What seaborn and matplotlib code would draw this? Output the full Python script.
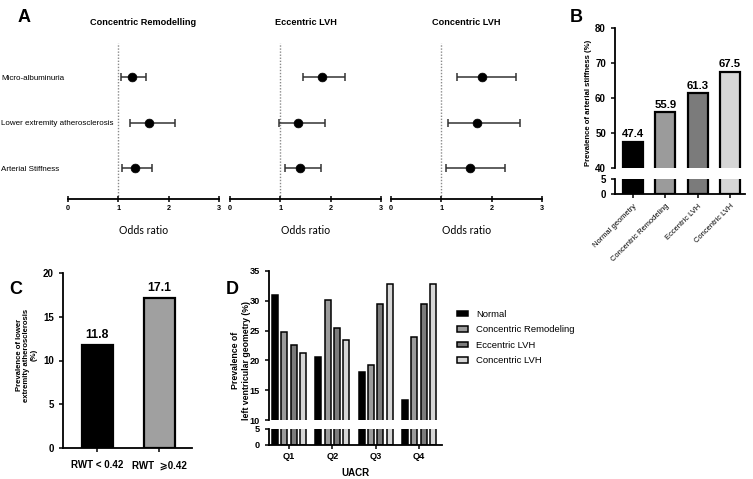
import numpy as np
import pandas as pd
import matplotlib.pyplot as plt
import seaborn as sns

sns.set_theme(style='ticks', rc={'axes.edgecolor': 'black', 'axes.linewidth': 1.3,
                                 'xtick.color': 'black', 'ytick.color': 'black',
                                 'text.color': 'black', 'axes.labelcolor': 'black',
                                 'xtick.major.width': 1.1, 'ytick.major.width': 1.1})
plt.rcParams['font.family'] = ['Liberation Sans', 'DejaVu Sans']

# ---- dados ----
outcomes = ['Micro-albuminuria', 'Lower extremity atherosclerosis', 'Arterial Stiffness']
or_groups = ['Concentric Remodelling', 'Eccentric LVH', 'Concentric LVH']
or_cr = [1.27, 1.61, 1.34]
lo_cr = [1.05, 1.23, 1.08]
hi_cr = [1.54, 2.13, 1.66]
or_el = [1.82, 1.36, 1.40]
lo_el = [1.46, 0.97, 1.09]
hi_el = [2.29, 1.89, 1.80]
or_cl = [1.81, 1.70, 1.57]
lo_cl = [1.32, 1.13, 1.10]
hi_cl = [2.49, 2.57, 2.26]

geometry = ['Normal geometry', 'Concentric Remodeling', 'Eccentric LVH', 'Concentric LVH']
stiff_pct = [47.4, 55.9, 61.3, 67.5]

rwt_groups = ['RWT < 0.42', 'RWT  \u2a7e0.42']
lea_pct = [11.8, 17.1]

quartiles = ['Q1', 'Q2', 'Q3', 'Q4']
normal_q = [31.0, 20.6, 18.0, 13.3]
cr_q = [24.8, 30.1, 19.3, 24.0]
el_q = [22.6, 25.4, 29.5, 29.4]
cl_q = [21.2, 23.5, 32.8, 32.9]

W, H = 753, 479


def box(x0, y0, x1, y1):
    # pixel box -> fig fraction
    return [x0 / W, 1 - y1 / H, (x1 - x0) / W, (y1 - y0) / H]


def bold_ticks(ax, size):
    for lab in ax.get_xticklabels() + ax.get_yticklabels():
        lab.set_fontweight('bold')
        lab.set_fontsize(size)


fig = plt.figure(figsize=(W / 100, H / 100), dpi=100)

# ---- A: forest plots ----
forest = [(or_cr, lo_cr, hi_cr), (or_el, lo_el, hi_el), (or_cl, lo_cl, hi_cl)]
fx = [68, 230, 391]
for i, (title, (orv, lo, hi)) in enumerate(zip(or_groups, forest)):
    ax = fig.add_axes(box(fx[i], 43, fx[i] + 151, 199))
    ypos = np.arange(len(outcomes))
    ax.axvline(1, color='#8a8a8a', ls=(0, (1, 1.2)), lw=1, zorder=0)
    ax.errorbar(orv, ypos, xerr=[np.subtract(orv, lo), np.subtract(hi, orv)],
                fmt='none', ecolor='#333333', elinewidth=1.1, capsize=2.6, capthick=1.1)
    sns.scatterplot(x=orv, y=ypos, ax=ax, color='black', s=40, edgecolor='black', zorder=3)
    ax.set_xlim(0, 3)
    ax.set_ylim(2.68, -0.75)
    for s in ['top', 'right', 'left']:
        ax.spines[s].set_visible(False)
    ax.set_xticks([0, 1, 2, 3])
    ax.tick_params(axis='x', direction='inout', length=5, pad=2)
    if i == 0:
        ax.set_yticks(ypos)
        ax.set_yticklabels(outcomes, ha='left')
        ax.tick_params(axis='y', length=0, pad=48)
    else:
        ax.set_yticks([])
    bold_ticks(ax, 5.2)
    for lab in ax.get_yticklabels():
        lab.set_fontweight('normal')
        lab.set_fontsize(5.8)
    ax.set_title(title, fontsize=6.6, fontweight='bold', pad=13)
    ax.set_xlabel('Odds ratio', fontsize=7.6, family='Lato', labelpad=9)

# ---- B: arterial stiffness ----
b_colors = ['#000000', '#9b9b9b', '#7b7b7b', '#d6d6d6']
axb_top = fig.add_axes(box(615, 28, 745, 168))
axb_bot = fig.add_axes(box(615, 179, 745, 194))
for ax in (axb_top, axb_bot):
    sns.barplot(x=geometry, y=stiff_pct, hue=geometry, palette=b_colors, width=0.62,
                edgecolor='black', linewidth=1.6, legend=False, ax=ax)
    ax.set_xlim(-0.56, 3.46)
    sns.despine(ax=ax)
    ax.tick_params(length=3)
axb_top.set_ylim(40, 80)
axb_top.set_yticks([40, 50, 60, 70, 80])
axb_top.spines['bottom'].set_visible(False)
axb_top.tick_params(axis='x', bottom=False, labelbottom=False)
for c in axb_top.containers:
    axb_top.bar_label(c, fmt='%.1f', padding=2, fontsize=8.2, fontweight='bold')
axb_bot.set_ylim(0, 5)
axb_bot.set_yticks([0, 5])
bold_ticks(axb_top, 7)
bold_ticks(axb_bot, 7)
axb_bot.set_xticks(range(len(geometry)))
axb_bot.set_xticklabels(geometry, rotation=45, ha='right', rotation_mode='anchor',
                        fontsize=5.4, fontweight='normal')
fig.text(588 / W, 1 - 103 / H, 'Prevalence of arterial stiffness (%)', rotation=90,
         ha='center', va='center', fontsize=5.6, fontweight='bold')

# ---- C: lower extremity atherosclerosis ----
axc = fig.add_axes(box(63, 273, 192, 448))
sns.barplot(x=rwt_groups, y=lea_pct, hue=rwt_groups, palette=['#000000', '#a0a0a0'],
            width=0.5, edgecolor='black', linewidth=1.6, legend=False, ax=axc)
axc.set_xlim(-0.55, 1.53)
axc.set_ylim(0, 20)
axc.set_yticks([0, 5, 10, 15, 20])
sns.despine(ax=axc)
axc.tick_params(length=3)
for c in axc.containers:
    axc.bar_label(c, fmt='%.1f', padding=3, fontsize=8.8, fontweight='bold')
bold_ticks(axc, 7)
for lab in axc.get_xticklabels():
    lab.set_fontsize(7)
axc.tick_params(axis='x', pad=6)
fig.text(27 / W, 1 - 355 / H, 'Prevalence of lower\nextremity atherosclerosis\n(%)',
         rotation=90, ha='center', va='center', fontsize=5.6, fontweight='bold',
         linespacing=1.05, multialignment='center')

# ---- D: geometry by UACR quartile ----
lv_df = pd.DataFrame({'Normal': normal_q, 'Concentric Remodeling': cr_q,
                      'Eccentric LVH': el_q, 'Concentric LVH': cl_q}, index=quartiles)
lv_long = lv_df.reset_index(names='UACR').melt(id_vars='UACR', var_name='Geometry',
                                               value_name='pct')
d_colors = ['#000000', '#9b9b9b', '#7b7b7b', '#d6d6d6']
axd_top = fig.add_axes(box(269, 271, 442, 420))
axd_bot = fig.add_axes(box(269, 429, 442, 445))
for ax in (axd_top, axd_bot):
    sns.barplot(data=lv_long, x='UACR', y='pct', hue='Geometry', palette=d_colors,
                width=0.86, gap=0.35, edgecolor='black', linewidth=1.1, ax=ax)
    ax.set_xlim(-0.46, 3.53)
    sns.despine(ax=ax)
    ax.tick_params(length=3)
    ax.set_ylabel('')
handles, labels = axd_top.get_legend_handles_labels()
axd_top.get_legend().remove()
axd_bot.get_legend().remove()
axd_top.set_ylim(10, 35)
axd_top.set_yticks([10, 15, 20, 25, 30, 35])
axd_top.spines['bottom'].set_visible(False)
axd_top.tick_params(axis='x', bottom=False, labelbottom=False)
axd_top.set_xlabel('')
axd_bot.set_ylim(0, 5)
axd_bot.set_yticks([0, 5])
bold_ticks(axd_top, 6.6)
bold_ticks(axd_bot, 6.6)
axd_bot.tick_params(axis='x', pad=2)
axd_bot.set_xlabel('UACR', fontsize=7, fontweight='bold', labelpad=5)
fig.text(241 / W, 1 - 360 / H, 'Prevalence of\nleft ventricular geometry (%)', rotation=90,
         ha='center', va='center', fontsize=6.3, fontweight='bold', linespacing=1.15)
fig.legend(handles, labels, loc='upper left', bbox_to_anchor=(457 / W, 1 - 310 / H),
           frameon=False, fontsize=6.8, handlelength=1.15, handleheight=0.5,
           handletextpad=0.9, labelspacing=0.68, borderpad=0, borderaxespad=0)

# ---- letras dos paineis ----
for letter, (px, py) in {'A': (24, 18), 'B': (576, 18), 'C': (16, 290), 'D': (232, 290)}.items():
    fig.text(px / W, 1 - py / H, letter, ha='center', va='center', fontsize=13,
             fontweight='bold')

plt.savefig('out.png', dpi=100)
